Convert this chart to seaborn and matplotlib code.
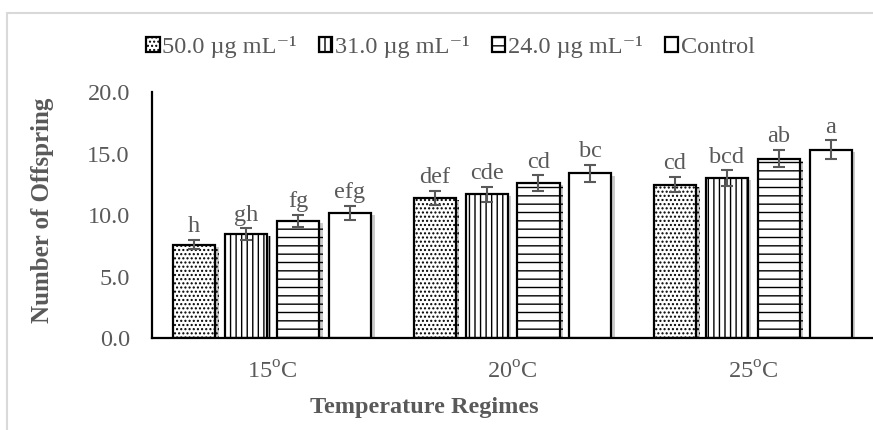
import numpy as np
import pandas as pd
import matplotlib
matplotlib.use("Agg")
import matplotlib.pyplot as plt
import matplotlib.patheffects as pe
from matplotlib.lines import Line2D
import seaborn as sns

# ── données ────────────────────────────────────────────────────
temps = ["15", "20", "25"]
concs = ["50.0 µg mL⁻¹", "31.0 µg mL⁻¹", "24.0 µg mL⁻¹", "Control"]
means = {
    "50.0 µg mL⁻¹": [7.6, 11.4, 12.5],
    "31.0 µg mL⁻¹": [8.45, 11.7, 13.0],
    "24.0 µg mL⁻¹": [9.5, 12.6, 14.6],
    "Control":      [10.2, 13.4, 15.35],
}
errs = {
    "50.0 µg mL⁻¹": [0.37, 0.58, 0.6],
    "31.0 µg mL⁻¹": [0.48, 0.6, 0.65],
    "24.0 µg mL⁻¹": [0.5, 0.65, 0.7],
    "Control":      [0.55, 0.7, 0.75],
}
letters = {
    "50.0 µg mL⁻¹": ["h", "def", "cd"],
    "31.0 µg mL⁻¹": ["gh", "cde", "bcd"],
    "24.0 µg mL⁻¹": ["fg", "cd", "ab"],
    "Control":      ["efg", "bc", "a"],
}
hatches = ["....", "|||", "--", ""]

rows = []
for c in concs:
    for t, m in zip(temps, means[c]):
        rows.append({"temp": t, "conc": c, "value": m})
df = pd.DataFrame(rows)

sns.set_style("white")
plt.rcParams["font.family"] = ["Liberation Serif", "DejaVu Serif"]
plt.rcParams["mathtext.fontset"] = "custom"
plt.rcParams["mathtext.rm"] = "Liberation Serif"
plt.rcParams["hatch.linewidth"] = 1.0
plt.rcParams["hatch.color"] = "black"
GREY = "#595959"
FS = 17.5

fig = plt.figure(figsize=(8.73, 4.30), dpi=100)
ax = fig.add_axes([0.1741, 0.214, 0.826, 0.571])

sns.barplot(data=df, x="temp", y="value", hue="conc", hue_order=concs,
            palette=["white"] * 4, edgecolor="black", linewidth=1.6,
            errorbar=None, width=0.864, gap=0.19, ax=ax)
bar_conts = list(ax.containers)

shadow = [pe.SimplePatchShadow(offset=(2.5, -1.5), shadow_rgbFace="#9a9a9a", alpha=0.5),
          pe.Normal()]
for cont, c, h in zip(bar_conts, concs, hatches):
    for bar, e, lab in zip(cont, errs[c], letters[c]):
        bar.set_hatch(h)
        bar.set_path_effects(shadow)
        x = bar.get_x() + bar.get_width() / 2
        y = bar.get_height()
        ax.errorbar(x, y, yerr=e, color=GREY, capsize=4.5, elinewidth=1.5,
                    capthick=1.5, zorder=5)
        ax.annotate(lab, (x, y + e), xytext=(0, 2), textcoords="offset points",
                    ha="center", va="bottom", fontsize=FS, color=GREY)

ax.legend_.remove()
handles = [cont.patches[0] for cont in bar_conts]
leg = fig.legend(handles, concs, loc="center", bbox_to_anchor=(0.516, 0.891),
                 ncol=4, frameon=False, fontsize=FS, handlelength=0.55,
                 handleheight=0.55, handletextpad=0.12, columnspacing=0.9,
                 labelcolor=GREY)
for hnd in leg.legend_handles:
    hnd.set_path_effects([])

ax.set_ylim(0, 20)
ax.set_xlim(-0.5, 2.5)
ax.set_yticks(np.arange(0, 20.1, 5))
ax.set_yticklabels([f"{v:.1f}" for v in np.arange(0, 20.1, 5)])
ax.set_xticks(range(3))
ax.set_xticklabels([t + r"$^{\mathregular{o}}$C" for t in temps])
ax.tick_params(axis="both", length=0, labelsize=FS, labelcolor=GREY)
ax.tick_params(axis="y", pad=16)
ax.tick_params(axis="x", pad=17)
for s in ["top", "right"]:
    ax.spines[s].set_visible(False)
for s in ["left", "bottom"]:
    ax.spines[s].set_color("black")
    ax.spines[s].set_linewidth(1.6)
ax.set_xlabel("")
ax.set_ylabel("")

fig.text(0.049, 0.51, "Number of Offspring", rotation=90, ha="center", va="center",
         fontsize=18, fontweight="bold", color=GREY)
fig.text(0.486, 0.053, "Temperature Regimes", ha="center", va="center",
         fontsize=17.5, fontweight="bold", color=GREY)

# cadre gris de la zone graphique
fig.add_artist(Line2D([7 / 873, 7 / 873], [0, 1 - 13 / 430], transform=fig.transFigure,
                      color="#d9d9d9", lw=1.5))
fig.add_artist(Line2D([7 / 873, 1], [1 - 13 / 430, 1 - 13 / 430], transform=fig.transFigure,
                      color="#d9d9d9", lw=1.5))

fig.savefig("out.png", dpi=100)
